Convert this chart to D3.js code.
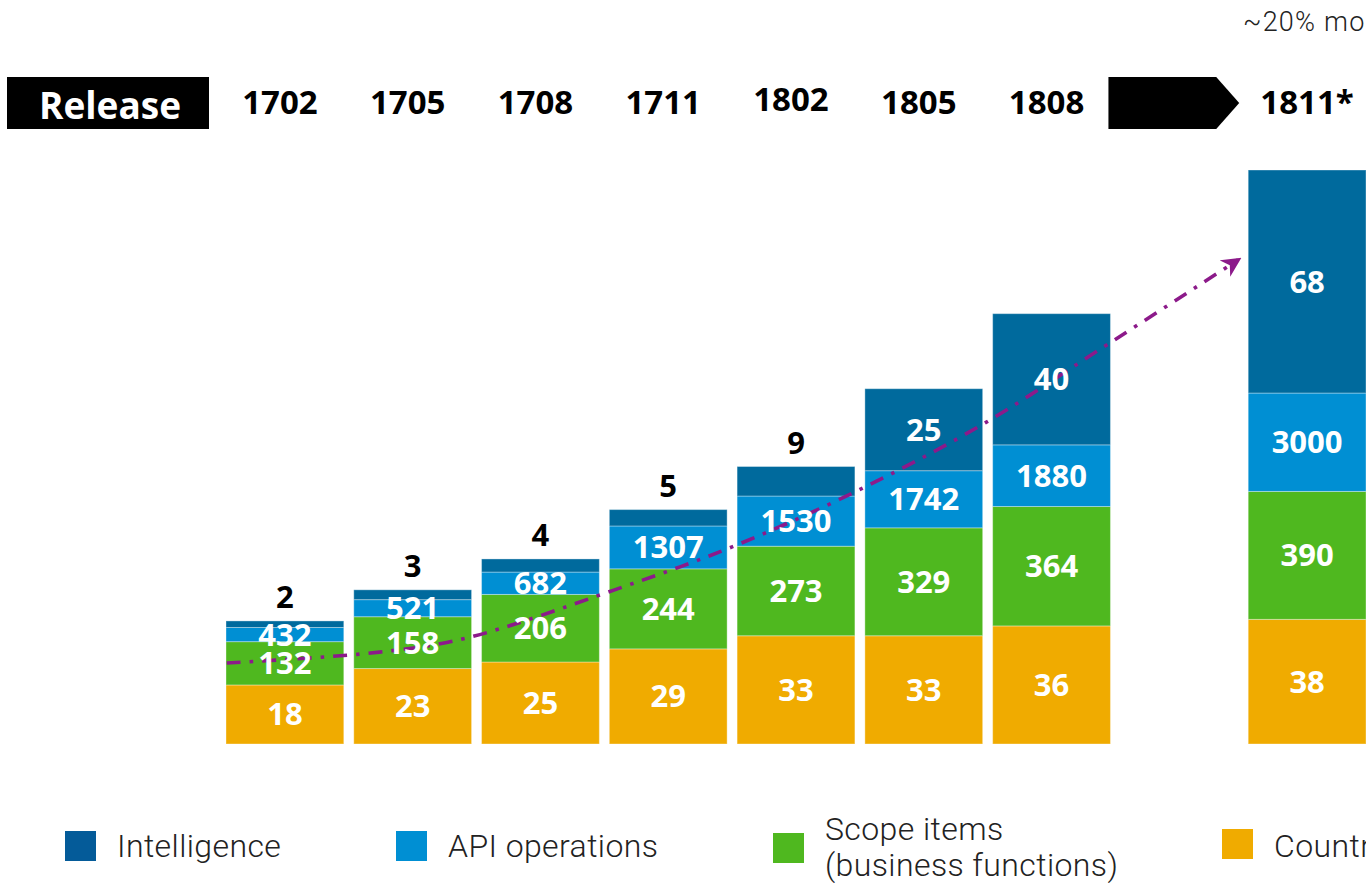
<!DOCTYPE html>
<html>
<head>
<meta charset="utf-8">
<script src="https://cdn.jsdelivr.net/npm/d3@7/dist/d3.min.js"></script>
<style>
  html, body { margin: 0; padding: 0; background: #fff; }
  svg { display: block; }
</style>
</head>
<body>
<svg id="chart" width="1366" height="883"></svg>
<script>
// ---------- data ----------
const releases = ["1702", "1705", "1708", "1711", "1802", "1805", "1808", "1811*"];
const slotDomain = ["1702", "1705", "1708", "1711", "1802", "1805", "1808", "arrow", "1811*"];
const countries = [18, 23, 25, 29, 33, 33, 36, 38];
const scopeItems = [132, 158, 206, 244, 273, 329, 364, 390];
const apiOperations = [432, 521, 682, 1307, 1530, 1742, 1880, 3000];
const intelligence = [2, 3, 4, 5, 9, 25, 40, 68];
const seriesNames = ["Countries", "Scope items", "API operations", "Intelligence"];
const seriesUnits = [1, 0.1, 0.01, 1];          // display units per series (chart is not to one scale)
const legendLabels = ["Intelligence", "API operations", "Scope items\n(business functions)", "Countries"];
// trend line (x in release slots, y in chart units)
const trendSlot = [-0.455, 0.74, 1.42, 2.58, 3.5, 4.49, 5.48, 6.37, 7.46];
const trendValue = [24.7, 28.0, 32.3, 47.0, 60.1, 77.4, 97.9, 120.1, 147.6];
const topNote = "~20% more";

// ---------- styles ----------
const colors = { "Countries": "#f0ab00", "Scope items": "#4fb81f", "API operations": "#008fd3", "Intelligence": "#006a9d" };
const legendColors = ["#045b99", "#008fd3", "#4fb81f", "#f0ab00"];
const trendColor = "#8c1a8a";
const boldFont = "'Open Sans', 'Liberation Sans', sans-serif";
const lightFont = "Roboto, 'Open Sans', sans-serif";

const svg = d3.select("#chart");
svg.append("rect").attr("width", 1366).attr("height", 883).attr("fill", "#fff");

// ---------- scales ----------
const x = d3.scaleBand().domain(slotDomain).range([226, 1366]).paddingInner(10 / 128).paddingOuter(0);
const bw = x.bandwidth();
const y = d3.scaleLinear().domain([0, 175]).range([744, 170]);
const slotX = d3.scaleLinear().domain([0, 1]).range([x(slotDomain[0]) + bw / 2, x(slotDomain[1]) + bw / 2]);

// ---------- stacked data ----------
const seriesData = [countries, scopeItems, apiOperations, intelligence];
const rows = releases.map((r, i) => {
  const o = { release: r };
  seriesNames.forEach((s, k) => { o[s] = seriesData[k][i] * seriesUnits[k]; o[s + "_raw"] = seriesData[k][i]; });
  return o;
});
const stack = d3.stack().keys(seriesNames)(rows);

// ---------- bars ----------
const g = svg.append("g");
stack.forEach((layer, k) => {
  const name = seriesNames[k];
  g.append("g").selectAll("rect").data(layer).join("rect")
    .attr("x", d => x(d.data.release))
    .attr("y", d => y(d[1]))
    .attr("width", bw)
    .attr("height", d => y(d[0]) - y(d[1]))
    .attr("fill", colors[name])
    .attr("stroke", "#ffffff")
    .attr("stroke-opacity", 0.35)
    .attr("stroke-width", 1);
});

// ---------- trend line ----------
const defs = svg.append("defs");
defs.append("marker")
  .attr("id", "arrowhead")
  .attr("viewBox", "0 0 10 10")
  .attr("refX", 8).attr("refY", 5)
  .attr("markerWidth", 5.5).attr("markerHeight", 5.5)
  .attr("markerUnits", "strokeWidth")
  .attr("orient", "auto")
  .append("path")
  .attr("d", "M0,0 L10,5 L0,10 L3,5 Z")
  .attr("fill", trendColor);

const trendPts = trendSlot.map((s, i) => [s, trendValue[i]]);
svg.append("path")
  .datum(trendPts)
  .attr("d", d3.line().x(d => slotX(d[0])).y(d => y(d[1])).curve(d3.curveCatmullRom.alpha(0.5)))
  .attr("fill", "none")
  .attr("stroke", trendColor)
  .attr("stroke-width", 3.6)
  .attr("stroke-dasharray", "14,9,3.5,9")
  .attr("marker-end", "url(#arrowhead)");

// ---------- segment labels ----------
const lab = svg.append("g").attr("font-family", boldFont).attr("font-weight", 700)
  .attr("font-size", 31).attr("text-anchor", "middle");
stack.forEach((layer, k) => {
  const name = seriesNames[k];
  layer.forEach(d => {
    const h = y(d[0]) - y(d[1]);
    const cx = x(d.data.release) + bw / 2;
    const inside = h >= 34 || k < 3;
    lab.append("text")
      .attr("x", cx)
      .attr("y", inside ? (y(d[0]) + y(d[1])) / 2 + 11 : y(d[1]) - 13)
      .attr("fill", inside ? "#fff" : "#000")
      .text(d.data[name + "_raw"]);
  });
});

// ---------- header ----------
const hdr = svg.append("g");
hdr.append("rect").attr("x", 7).attr("y", 77).attr("width", 202).attr("height", 52).attr("fill", "#000");
hdr.append("text").attr("x", 110).attr("y", 119).attr("text-anchor", "middle")
  .attr("font-family", boldFont).attr("font-weight", 700).attr("font-size", 37)
  .attr("fill", "#fff").text("Release");
const ax = x("arrow");
hdr.append("path")
  .attr("d", `M${ax - 12},77 L${ax + bw - 22},77 L${ax + bw + 1},103 L${ax + bw - 22},129 L${ax - 12},129 Z`)
  .attr("fill", "#000");
hdr.selectAll("text.rel").data(releases).join("text")
  .attr("class", "rel")
  .attr("x", d => x(d) + bw / 2 - (d === "1811*" ? 0 : 5))
  .attr("y", d => d === "1802" ? 111 : 114)
  .attr("text-anchor", "middle")
  .attr("font-family", boldFont).attr("font-weight", 700).attr("font-size", 33)
  .attr("fill", "#000")
  .text(d => d);

svg.append("text").attr("x", 1243).attr("y", 31)
  .attr("font-family", lightFont).attr("font-weight", 300).attr("font-size", 27)
  .attr("letter-spacing", 1.2)
  .attr("fill", "#222").text(topNote);

// ---------- legend ----------
const legX = [65, 396, 773, 1222];
const leg = svg.append("g");
legendLabels.forEach((t, i) => {
  const lines = t.split("\n");
  const gy = lines.length > 1 ? 833 : (i === 3 ? 829 : 831);
  leg.append("rect").attr("x", legX[i]).attr("y", gy).attr("width", 31).attr("height", 30).attr("fill", legendColors[i]);
  const tx = leg.append("text").attr("x", legX[i] + 52)
    .attr("y", lines.length > 1 ? 840 : 857)
    .attr("font-family", lightFont).attr("font-weight", 300).attr("font-size", 32)
    .attr("letter-spacing", 0.4).attr("fill", "#222");
  lines.forEach((l, j) => tx.append("tspan").attr("x", legX[i] + 52).attr("dy", j === 0 ? 0 : 36).text(l));
});
</script>
</body>
</html>
